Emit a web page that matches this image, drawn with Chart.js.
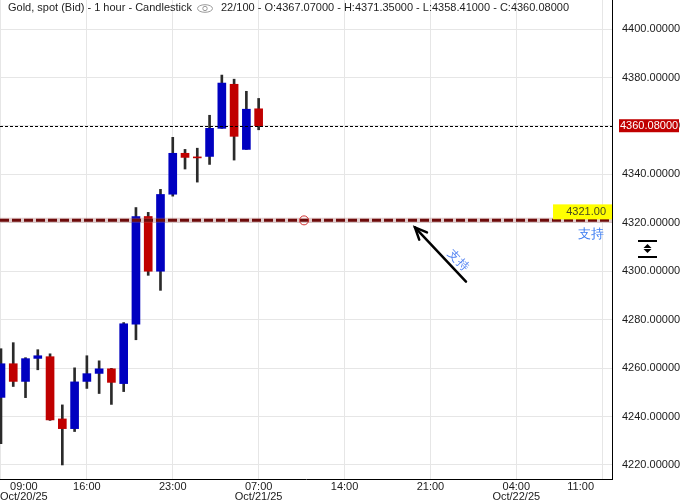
<!DOCTYPE html>
<html lang="en">
<head>
<meta charset="UTF-8">
<title>Gold, spot (Bid) - 1 hour</title>
<style>
  body{ margin:0; background:#fff; }
  #wrap{ width:682px; height:503px; }
</style>
</head>
<body>
<div id="wrap"><canvas id="chart" width="682" height="503"></canvas></div>
<script src="https://cdn.jsdelivr.net/npm/chart.js"></script>
<script>
// hourly candles
const opens  = [4247.9, 4261.8, 4254.5, 4264.0, 4264.7, 4239.0, 4235.0, 4254.5, 4257.8, 4259.7, 4253.6,
                4278.1, 4322.6, 4300.0, 4331.8, 4348.7, 4347.2, 4347.4, 4359.0, 4377.2, 4350.3, 4367.07];
const highs  = [4268.0, 4270.5, 4264.3, 4267.6, 4265.9, 4244.8, 4260.1, 4265.1, 4263.0, 4259.9, 4278.8,
                4326.3, 4324.3, 4333.8, 4355.3, 4350.3, 4350.8, 4364.4, 4381.0, 4379.3, 4374.3, 4371.35];
const lows   = [4228.8, 4252.4, 4247.8, 4259.3, 4238.4, 4220.0, 4233.8, 4251.6, 4249.5, 4245.0, 4250.3,
                4271.7, 4298.3, 4292.1, 4331.0, 4342.2, 4336.8, 4344.1, 4359.0, 4345.9, 4350.3, 4358.41];
const closes = [4261.8, 4254.5, 4263.9, 4265.1, 4238.6, 4235.0, 4254.3, 4257.7, 4259.7, 4254.1, 4278.3,
                4322.6, 4300.0, 4331.7, 4348.7, 4347.0, 4346.8, 4359.0, 4377.7, 4355.7, 4366.9, 4360.08];

const tickIdx = [0, 7, 14, 21, 28, 35, 42, 49];
const tickLabels = [['09:00', 'Oct/20/25'], '16:00', '23:00', ['07:00', 'Oct/21/25'], '14:00', '21:00', ['04:00', 'Oct/22/25'], '11:00'];
const yTicks = [4220, 4240, 4260, 4280, 4300, 4320, 4340, 4360, 4380, 4400];

const supportLevel = 4321;
const supportText = '支持';

const FONT = "'Liberation Sans', Arial, sans-serif";
const UP = '#0000c0', DOWN = '#c00000';
const n = closes.length;
const lastPrice = closes[n - 1];

const overlay = {
  id: 'overlay',
  afterDatasetsDraw(chart){
    const c = chart.ctx, x = chart.scales.x, y = chart.scales.y, a = chart.chartArea;
    c.save();
    // last price line
    const py = Math.round(y.getPixelForValue(lastPrice)) + 0.5;
    c.strokeStyle = '#000'; c.lineWidth = 1; c.setLineDash([3, 2]);
    c.beginPath(); c.moveTo(a.left, py); c.lineTo(a.right, py); c.stroke();
    // support line
    const sy = y.getPixelForValue(supportLevel);
    c.setLineDash([]);
    c.strokeStyle = 'rgba(170,110,110,0.35)'; c.lineWidth = 5;
    c.beginPath(); c.moveTo(a.left, sy); c.lineTo(a.right, sy); c.stroke();
    c.setLineDash([9, 3]);
    c.strokeStyle = '#6e0b0b'; c.lineWidth = 3;
    c.beginPath(); c.moveTo(a.left, sy); c.lineTo(a.right, sy); c.stroke();
    c.setLineDash([]);
    // small circle marker
    c.strokeStyle = '#d03030'; c.lineWidth = 1;
    c.beginPath(); c.arc(x.getPixelForValue(24.7), sy, 4.5, 0, Math.PI * 2); c.stroke();
    // arrow
    const tx = x.getPixelForValue(37.9), ty = y.getPixelForValue(4295.7);
    const hx = x.getPixelForValue(33.74), hy = y.getPixelForValue(4318.1);
    c.strokeStyle = '#000'; c.lineWidth = 2.5; c.lineCap = 'round';
    c.beginPath(); c.moveTo(tx, ty); c.lineTo(hx, hy); c.stroke();
    const ang = Math.atan2(ty - hy, tx - hx);
    c.beginPath();
    c.moveTo(hx + 13 * Math.cos(ang - 0.42), hy + 13 * Math.sin(ang - 0.42));
    c.lineTo(hx, hy);
    c.lineTo(hx + 13 * Math.cos(ang + 0.42), hy + 13 * Math.sin(ang + 0.42));
    c.stroke();
    // rotated label next to arrow
    c.save();
    c.translate(x.getPixelForValue(37.25), y.getPixelForValue(4304.4));
    c.rotate(ang);
    c.fillStyle = '#4d7ff2'; c.font = '12px ' + FONT;
    c.textAlign = 'center'; c.textBaseline = 'middle';
    c.fillText(supportText, 0, 0);
    c.restore();
    // yellow price tag on the support line
    c.fillStyle = '#ffff00';
    c.fillRect(553, sy - 16, a.right - 553, 15);
    c.fillStyle = '#4a4a20'; c.font = '11px ' + FONT;
    c.textAlign = 'right'; c.textBaseline = 'middle';
    c.fillText(supportLevel.toFixed(2), 606, sy - 8);
    c.fillStyle = '#3b7cf2'; c.font = '13px ' + FONT; c.textAlign = 'center';
    c.fillText(supportText, 590.5, sy + 14);
    c.restore();
  },
  afterDraw(chart){
    const c = chart.ctx, x = chart.scales.x, y = chart.scales.y, a = chart.chartArea;
    c.save();
    // red last price box on the axis
    const py = y.getPixelForValue(lastPrice);
    c.fillStyle = '#c00000';
    c.fillRect(619, py - 6.5, 60, 13);
    c.fillStyle = '#fff'; c.font = '11px ' + FONT;
    c.textAlign = 'left'; c.textBaseline = 'middle';
    c.fillText(lastPrice.toFixed(5), 620, py);
    // scale handle icon
    c.fillStyle = '#000';
    c.fillRect(638, 240, 19, 2);
    c.fillRect(638, 256, 19, 2);
    c.beginPath(); c.moveTo(647.5, 244); c.lineTo(651.5, 248); c.lineTo(643.5, 248); c.closePath(); c.fill();
    c.beginPath(); c.moveTo(647.5, 253); c.lineTo(651.5, 249); c.lineTo(643.5, 249); c.closePath(); c.fill();
    // header
    c.fillStyle = '#1e1e1e'; c.font = '11px ' + FONT;
    c.textBaseline = 'middle'; c.textAlign = 'left';
    c.fillText('Gold, spot (Bid) - 1 hour - Candlestick', 8, 8);
    c.strokeStyle = '#9a9a9a'; c.lineWidth = 1;
    c.beginPath(); c.ellipse(205, 8.5, 7.5, 3.8, 0, 0, Math.PI * 2); c.stroke();
    c.beginPath(); c.arc(205, 8.5, 2.2, 0, Math.PI * 2); c.stroke();
    c.fillStyle = '#1e1e1e';
    c.fillText(n + '/100 - O:' + opens[n - 1].toFixed(5) + ' - H:' + highs[n - 1].toFixed(5) +
               ' - L:' + lows[n - 1].toFixed(5) + ' - C:' + closes[n - 1].toFixed(5), 221, 8);
    // time labels
    c.fillStyle = '#1a1a1a'; c.textAlign = 'center';
    tickIdx.forEach((v, i) => {
      const lines = [].concat(tickLabels[i]);
      const w = Math.max(...lines.map(s => c.measureText(s).width));
      let cx = x.getPixelForValue(v);
      cx = Math.min(Math.max(cx, w / 2), 594 - w / 2);
      lines.forEach((s, k) => c.fillText(s, cx, a.bottom + 8 + k * 9.5));
    });
    c.restore();
  }
};

new Chart(document.getElementById('chart'), {
  type: 'bar',
  data: {
    datasets: [{
      data: lows.map((l, i) => ({ x: i, y: [l, highs[i]] })),
      backgroundColor: '#2a2a2a',
      barThickness: 2,
      grouped: false,
      order: 2
    }, {
      data: opens.map((o, i) => ({ x: i, y: [o, closes[i]] })),
      backgroundColor: opens.map((o, i) => closes[i] >= o ? UP : DOWN),
      barThickness: 8,
      minBarLength: 1,
      grouped: false,
      order: 1
    }]
  },
  options: {
    responsive: false,
    devicePixelRatio: 1,
    animation: false,
    layout: { padding: 0 },
    plugins: { legend: { display: false }, tooltip: { enabled: false } },
    scales: {
      x: {
        type: 'linear',
        min: -0.08, max: 49.8,
        offset: false,
        grid: { color: '#e6e6e6', offset: false, drawTicks: false },
        border: { display: true, color: '#000' },
        ticks: { display: false },
        afterBuildTicks: s => { s.ticks = tickIdx.map(v => ({ value: v })); },
        afterFit: s => { s.height = 24; s.paddingLeft = 0; s.paddingRight = 0; }
      },
      y: {
        position: 'right',
        min: 4214.2, max: 4412.0,
        grid: { color: '#e6e6e6', drawTicks: false },
        border: { display: true, color: '#000' },
        ticks: {
          color: '#1a1a1a',
          font: { family: FONT, size: 11 },
          padding: 10,
          callback: v => v.toFixed(5)
        },
        afterBuildTicks: s => { s.ticks = yTicks.map(v => ({ value: v })); },
        afterFit: s => { s.width = 70; s.paddingTop = 0; s.paddingBottom = 0; }
      }
    }
  },
  plugins: [overlay]
});
</script>
</body>
</html>
